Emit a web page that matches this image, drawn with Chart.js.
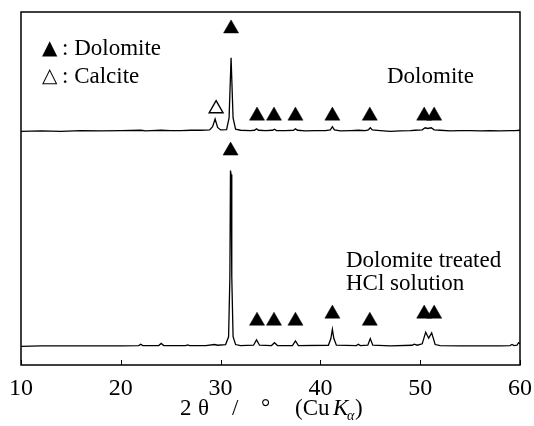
<!DOCTYPE html>
<html>
<head>
<meta charset="utf-8">
<script src="https://cdn.jsdelivr.net/npm/chart.js@4/dist/chart.umd.min.js"></script>
<style>
html,body{margin:0;padding:0;background:#fff;}
#wrap{width:534px;height:426px;position:relative;}
.pre{font-family:"Liberation Serif";position:absolute;left:-999px;top:0;}
</style>
</head>
<body>
<div class="pre">x <i>x</i></div>
<div id="wrap"><canvas id="c" width="534" height="426"></canvas></div>
<script>
// ---- data ----
const upperAngles = [10,12,14,16,18,20,22,22.5,23,24,25,26,27,28,28.9,29.2,29.45,29.7,30.0,30.6,30.85,31.05,31.25,31.5,32,33,33.4,33.6,33.8,34.5,35.2,35.4,35.6,36.5,37.3,37.5,37.7,38.5,39.5,40.5,41.0,41.2,41.4,42,43,43.8,44.5,44.8,45.0,45.2,46,47,48,49,49.5,50.2,50.5,50.75,51.1,51.4,52,53,54,55,56,57,58,59,59.5,60];
const upperIntensity = [66.2,66.3,66.2,66.4,66.3,66.4,66.5,66.3,66.4,66.5,66.4,66.4,66.5,66.5,66.6,67.5,69.7,67.3,66.6,66.7,70,87.0,70,66.8,66.5,66.4,66.5,66.9,66.5,66.4,66.5,66.8,66.4,66.4,66.5,66.9,66.5,66.3,66.4,66.4,66.6,67.5,66.6,66.3,66.4,66.5,66.4,66.6,67.2,66.6,66.4,66.2,66.3,66.4,66.5,66.6,67.2,67.0,67.2,66.6,66.5,66.3,66.4,66.4,66.3,66.4,66.3,66.4,66.4,66.5];

const lowerAngles = [10,12,14,16,18,20,21.8,22.0,22.2,23.8,24.05,24.3,26.5,26.7,26.9,28.5,29.4,29.7,30.5,30.8,30.93,30.99,31.05,31.12,31.25,31.5,32,33.3,33.6,33.9,35.1,35.4,35.7,37.2,37.5,37.8,40.8,41.05,41.2,41.35,41.6,43.6,43.8,44.0,44.75,45.0,45.25,47,49.2,49.4,49.7,50.2,50.55,50.85,51.15,51.5,52,54,56,58,59.0,59.2,59.4,59.7,59.85,60];
const lowerIntensity = [5.3,5.4,5.4,5.4,5.4,5.4,5.5,5.9,5.5,5.5,6.1,5.5,5.5,5.7,5.5,5.5,5.8,5.6,5.8,8,25,55.1,54,25,8,5.8,5.5,5.6,7.1,5.6,5.5,6.3,5.5,5.5,6.8,5.5,5.6,7.5,10.1,7.5,5.6,5.5,5.9,5.5,5.6,7.5,5.6,5.4,5.6,5.9,5.6,6.0,9.3,7.6,9.1,5.8,5.5,5.4,5.4,5.4,5.5,5.8,5.5,5.6,6.3,6.0];

const dolomiteUpperX = [31.05,33.65,35.35,37.5,41.2,44.95,50.4,51.4];
const dolomiteUpperY = [95.3,70.6,70.6,70.6,70.6,70.6,70.6,70.6];
const calciteUpperX = [29.55];
const calciteUpperY = [72.6];
const dolomiteLowerX = [31.0,33.65,35.35,37.5,41.2,44.95,50.4,51.4];
const dolomiteLowerY = [60.7,12.5,12.5,12.5,14.5,12.5,14.5,14.5];

const xTicks = [10,20,30,40,50,60];
const labelUpper = "Dolomite";
const labelLower = ["Dolomite treated","HCl solution"];
const legendItems = [["▲",": Dolomite"],["△",": Calcite"]];

// ---- build ----
const SERIF = '"Liberation Serif", "Times New Roman", Times, serif';
const pts = (xs, ys) => xs.map((x,i)=>({x:x, y:ys[i]}));

const deco = {
  id:'deco',
  afterDraw(chart){
    const {ctx, chartArea:a, scales} = chart;
    const xs = scales.x;
    ctx.save();
    ctx.strokeStyle = '#000';
    ctx.lineWidth = 1.5;
    ctx.strokeRect(a.left, a.top, a.right - a.left, a.bottom - a.top);
    ctx.lineWidth = 1;
    xTicks.forEach(v=>{
      const px = Math.round(xs.getPixelForValue(v)) + 0.5;
      ctx.beginPath(); ctx.moveTo(px, a.bottom); ctx.lineTo(px, a.bottom - 5); ctx.stroke();
    });
    ctx.fillStyle = '#000';
    ctx.textBaseline = 'alphabetic';
    ctx.textAlign = 'left';
    // legend
    legendItems.forEach((it,i)=>{
      const y = 55 + i*28;
      ctx.font = '20px "DejaVu Sans"';
      ctx.fillText(it[0], 42, y - 1);
      ctx.font = '23px ' + SERIF;
      ctx.fillText(it[1], 62, y);
    });
    ctx.font = '23px ' + SERIF;
    ctx.fillText(labelUpper, 387, 83);
    ctx.fillText(labelLower[0], 346, 267);
    ctx.fillText(labelLower[1], 346, 290);
    // axis title
    const by = 415;
    ctx.font = '23px ' + SERIF;
    ctx.fillText('2', 180, by);
    ctx.fillText('θ', 198, by);
    ctx.fillText('/', 232, by);
    ctx.fillText('°', 261, by);
    ctx.fillText('(Cu', 295, by);
    ctx.font = 'italic 23px ' + SERIF;
    ctx.fillText('K', 333, by);
    ctx.font = 'italic 14px ' + SERIF;
    ctx.fillText('α', 347, by + 5);
    ctx.font = '23px ' + SERIF;
    ctx.fillText(')', 355, by);
    ctx.restore();
  }
};

function build(){
  Chart.defaults.font.family = SERIF;
  Chart.defaults.color = '#000';
  new Chart(document.getElementById('c'), {
    type: 'line',
    data: {
      datasets: [
        {label:'Dolomite', data: pts(upperAngles, upperIntensity), borderColor:'#000', borderWidth:1.3, pointRadius:0, tension:0, fill:false},
        {label:'Dolomite treated HCl solution', data: pts(lowerAngles, lowerIntensity), borderColor:'#000', borderWidth:1.3, pointRadius:0, tension:0, fill:false},
        {type:'scatter', label:'Dolomite peaks (upper)', data: pts(dolomiteUpperX, dolomiteUpperY), pointStyle:'triangle', pointRadius:8.7, backgroundColor:'#000', borderColor:'#000', borderWidth:0.5, showLine:false},
        {type:'scatter', label:'Calcite peak', data: pts(calciteUpperX, calciteUpperY), pointStyle:'triangle', pointRadius:8, backgroundColor:'#fff', borderColor:'#000', borderWidth:1.4, showLine:false},
        {type:'scatter', label:'Dolomite peaks (lower)', data: pts(dolomiteLowerX, dolomiteLowerY), pointStyle:'triangle', pointRadius:8.7, backgroundColor:'#000', borderColor:'#000', borderWidth:0.5, showLine:false}
      ]
    },
    options: {
      responsive:false,
      animation:false,
      events:[],
      layout:{padding:{left:21, right:14, top:12, bottom:0}},
      plugins:{legend:{display:false}, tooltip:{enabled:false}},
      scales:{
        x:{
          type:'linear', min:10, max:60,
          afterBuildTicks(s){ s.ticks = xTicks.map(v=>({value:v})); },
          afterFit(s){ s.height = 61; s.paddingLeft = 0; s.paddingRight = 0; },
          grid:{display:false, drawTicks:false},
          border:{display:false},
          ticks:{padding:9, font:{size:24, family:SERIF}, color:'#000', maxRotation:0, autoSkip:false}
        },
        y:{type:'linear', min:0, max:100, display:false}
      }
    },
    plugins:[deco]
  });
}
Promise.all([
  document.fonts.load('23px "Liberation Serif"'),
  document.fonts.load('italic 23px "Liberation Serif"')
]).then(build, build);
</script>
</body>
</html>
